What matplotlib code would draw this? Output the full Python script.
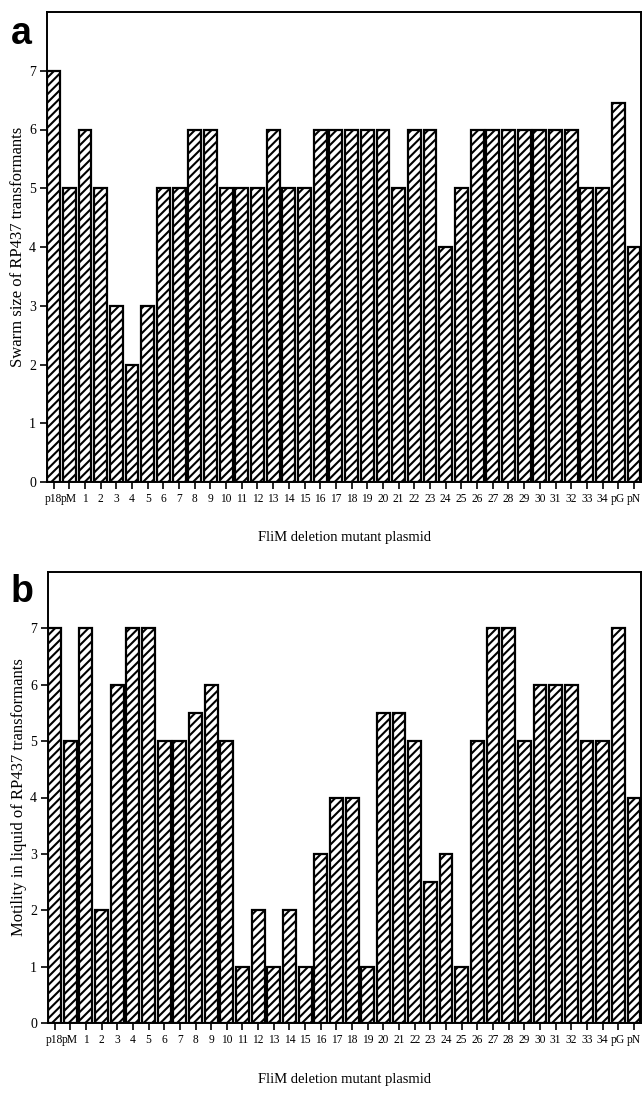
import matplotlib
matplotlib.use("Agg")
import matplotlib.pyplot as plt
import numpy as np

categories = ["p18", "pM", "1", "2", "3", "4", "5", "6", "7", "8", "9", "10",
              "11", "12", "13", "14", "15", "16", "17", "18", "19", "20", "21",
              "22", "23", "24", "25", "26", "27", "28", "29", "30", "31", "32",
              "33", "34", "pG", "pN"]
swarm_size = [7, 5, 6, 5, 3, 2, 3, 5, 5, 6, 6, 5, 5, 5, 6, 5, 5, 6, 6, 6, 6, 6,
              5, 6, 6, 4, 5, 6, 6, 6, 6, 6, 6, 6, 5, 5, 6.45, 4]
motility = [7, 5, 7, 2, 6, 7, 7, 5, 5, 5.5, 6, 5, 1, 2, 1, 2, 1, 3, 4, 4, 1,
            5.5, 5.5, 5, 2.5, 3, 1, 5, 7, 7, 5, 6, 6, 6, 5, 5, 7, 4]
y_ticks = [0, 1, 2, 3, 4, 5, 6, 7]
xlabel = "FliM deletion mutant plasmid"
ylabel_a = "Swarm size of RP437 transformants"
ylabel_b = "Motility in liquid of RP437 transformants"

plt.rcParams["hatch.linewidth"] = 1.5
serif = ["Liberation Serif", "DejaVu Serif"]

W, H = 643, 1108
fig = plt.figure(figsize=(W / 100, H / 100), dpi=100)

def make_panel(rect, values, ylabel):
    ax = fig.add_axes(rect)
    x = np.arange(len(categories))
    ax.bar(x, values, width=0.82, facecolor="white", edgecolor="black",
           linewidth=1.6, hatch="////")
    ax.set_xlim(-0.42, len(categories) - 0.55)
    ax.set_ylim(0, 8)
    ax.set_yticks(y_ticks)
    ax.set_yticklabels([str(t) for t in y_ticks], fontfamily=serif, fontsize=10)
    ax.set_xticks(x)
    ax.set_xticklabels(categories, fontfamily=serif, fontsize=8.3)
    ax.tick_params(axis="both", direction="out", length=5, width=1.2, pad=3)
    for s in ax.spines.values():
        s.set_linewidth(1.4)
    ax.set_xlabel(xlabel, fontfamily=serif, fontsize=10.5, labelpad=19)
    ax.set_ylabel(ylabel, fontfamily=serif, fontsize=12, labelpad=2)
    return ax

ax_a = make_panel([47 / W, 1 - 482 / H, 594 / W, 470 / H], swarm_size, ylabel_a)
ax_b = make_panel([48 / W, 1 - 1023 / H, 593 / W, 451 / H], motility, ylabel_b)

fig.text(11 / W, 1 - 16 / H, "a", fontfamily="Liberation Sans", fontweight="bold",
         fontsize=27, va="top", ha="left")
fig.text(11 / W, 1 - 574 / H, "b", fontfamily="Liberation Sans", fontweight="bold",
         fontsize=27, va="top", ha="left")

fig.savefig("out.png", dpi=100, facecolor="white")
